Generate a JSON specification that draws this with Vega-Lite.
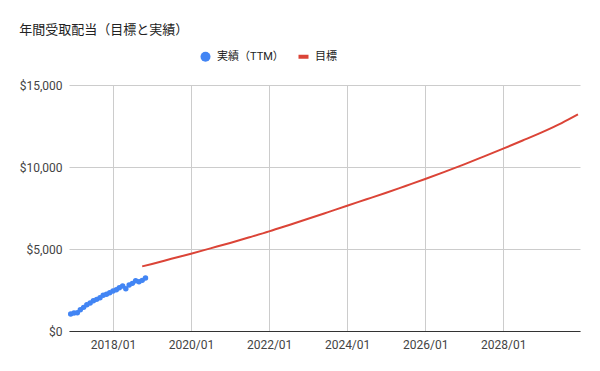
{
  "$schema": "https://vega.github.io/schema/vega-lite/v6.json",
  "width": 511,
  "height": 246,
  "autosize": {"type": "none"},
  "padding": {"left": 69, "top": 85, "right": 20, "bottom": 40},
  "background": "white",
  "title": {
    "text": "年間受取配当（目標と実績）",
    "anchor": "start",
    "orient": "top",
    "dx": 0,
    "offset": 14,
    "fontSize": 13,
    "fontWeight": "normal",
    "font": "Roboto, Noto Sans CJK JP",
    "color": "#222222"
  },
  "datasets": {
    "actual": [
      {"date": "2016-12-01", "value": 1035, "series": "実績（TTM）"},
      {"date": "2017-01-01", "value": 1096, "series": "実績（TTM）"},
      {"date": "2017-02-01", "value": 1116, "series": "実績（TTM）"},
      {"date": "2017-03-01", "value": 1299, "series": "実績（TTM）"},
      {"date": "2017-04-01", "value": 1441, "series": "実績（TTM）"},
      {"date": "2017-05-01", "value": 1604, "series": "実績（TTM）"},
      {"date": "2017-06-01", "value": 1705, "series": "実績（TTM）"},
      {"date": "2017-07-01", "value": 1848, "series": "実績（TTM）"},
      {"date": "2017-08-01", "value": 1929, "series": "実績（TTM）"},
      {"date": "2017-09-01", "value": 2030, "series": "実績（TTM）"},
      {"date": "2017-10-01", "value": 2173, "series": "実績（TTM）"},
      {"date": "2017-11-01", "value": 2234, "series": "実績（TTM）"},
      {"date": "2017-12-01", "value": 2335, "series": "実績（TTM）"},
      {"date": "2018-01-01", "value": 2437, "series": "実績（TTM）"},
      {"date": "2018-02-01", "value": 2518, "series": "実績（TTM）"},
      {"date": "2018-03-01", "value": 2640, "series": "実績（TTM）"},
      {"date": "2018-04-01", "value": 2742, "series": "実績（TTM）"},
      {"date": "2018-05-01", "value": 2579, "series": "実績（TTM）"},
      {"date": "2018-06-01", "value": 2803, "series": "実績（TTM）"},
      {"date": "2018-07-01", "value": 2904, "series": "実績（TTM）"},
      {"date": "2018-08-01", "value": 3067, "series": "実績（TTM）"},
      {"date": "2018-09-01", "value": 3006, "series": "実績（TTM）"},
      {"date": "2018-10-01", "value": 3087, "series": "実績（TTM）"},
      {"date": "2018-11-01", "value": 3230, "series": "実績（TTM）"}
    ],
    "target": [
      {"date": "2018-10-01", "value": 3940, "series": "目標"},
      {"date": "2019-01-01", "value": 4090, "series": "目標"},
      {"date": "2019-07-01", "value": 4400, "series": "目標"},
      {"date": "2020-01-01", "value": 4713, "series": "目標"},
      {"date": "2020-07-01", "value": 5040, "series": "目標"},
      {"date": "2021-01-01", "value": 5370, "series": "目標"},
      {"date": "2021-07-01", "value": 5715, "series": "目標"},
      {"date": "2022-01-01", "value": 6073, "series": "目標"},
      {"date": "2022-07-01", "value": 6450, "series": "目標"},
      {"date": "2023-01-01", "value": 6840, "series": "目標"},
      {"date": "2023-07-01", "value": 7235, "series": "目標"},
      {"date": "2024-01-01", "value": 7640, "series": "目標"},
      {"date": "2024-07-01", "value": 8030, "series": "目標"},
      {"date": "2025-01-01", "value": 8430, "series": "目標"},
      {"date": "2025-07-01", "value": 8845, "series": "目標"},
      {"date": "2026-01-01", "value": 9268, "series": "目標"},
      {"date": "2026-07-01", "value": 9705, "series": "目標"},
      {"date": "2027-01-01", "value": 10160, "series": "目標"},
      {"date": "2027-07-01", "value": 10630, "series": "目標"},
      {"date": "2028-01-01", "value": 11116, "series": "目標"},
      {"date": "2028-07-01", "value": 11615, "series": "目標"},
      {"date": "2029-01-01", "value": 12130, "series": "目標"},
      {"date": "2029-07-01", "value": 12680, "series": "目標"},
      {"date": "2029-12-01", "value": 13207, "series": "目標"}
    ]
  },
  "layer": [
    {
      "data": {"name": "target"},
      "mark": {"type": "line", "strokeWidth": 2, "interpolate": "monotone"},
      "encoding": {
        "x": {"field": "date", "type": "temporal"},
        "y": {"field": "value", "type": "quantitative"},
        "color": {"field": "series", "type": "nominal"}
      }
    },
    {
      "data": {"name": "actual"},
      "mark": {"type": "point", "filled": true, "size": 30, "opacity": 1},
      "encoding": {
        "x": {"field": "date", "type": "temporal"},
        "y": {"field": "value", "type": "quantitative"},
        "color": {"field": "series", "type": "nominal"},
        "shape": {
          "field": "series",
          "type": "nominal",
          "scale": {"domain": ["実績（TTM）", "目標"], "range": ["circle", "M-1,-0.4H1V0.4H-1Z"]}
        }
      }
    }
  ],
  "encoding": {
    "x": {
      "field": "date",
      "type": "temporal",
      "scale": {"domain": ["2016-11-15", "2029-12-20"]},
      "axis": {"format": "%Y/%m", "tickCount": {"interval": "year", "step": 2}}
    },
    "y": {
      "field": "value",
      "type": "quantitative",
      "scale": {"domain": [0, 15000], "nice": false},
      "axis": {"values": [0, 5000, 10000, 15000], "format": "$,.0f"}
    },
    "color": {
      "field": "series",
      "type": "nominal",
      "scale": {"domain": ["実績（TTM）", "目標"], "range": ["#4285f4", "#db4437"]}
    }
  },
  "config": {
    "view": {"stroke": null},
    "font": "Roboto",
    "axis": {
      "labelFont": "Roboto",
      "labelFontSize": 12,
      "labelColor": "#444444",
      "ticks": false,
      "title": null,
      "gridColor": "#cccccc",
      "gridWidth": 1
    },
    "axisX": {
      "domainColor": "#333333",
      "domainWidth": 1,
      "labelPadding": 8,
      "labelFlush": false
    },
    "axisY": {
      "domain": false,
      "labelPadding": 7
    },
    "legend": {
      "orient": "none",
      "legendX": 131,
      "legendY": -34,
      "direction": "horizontal",
      "title": null,
      "symbolSize": 100,
      "symbolStrokeWidth": 0,
      "labelFontSize": 11,
      "labelFont": "Roboto, Noto Sans CJK JP",
      "labelColor": "#222222",
      "columnPadding": 14,
      "labelOffset": 6
    }
  }
}
